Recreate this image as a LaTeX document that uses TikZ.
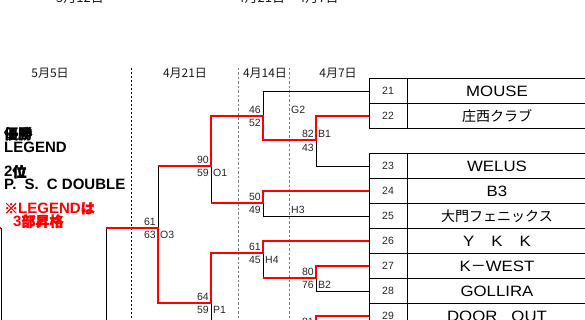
\documentclass[tikz,border=0pt]{standalone}
\usepackage{fontspec}
\setmainfont{Liberation Sans}
\newfontfamily\jp{Noto Sans CJK JP}
\newfontfamily\jpb[FakeBold=2.5]{Noto Sans CJK JP}
\newfontfamily\wide[FakeStretch=1.12]{Liberation Sans}
\begin{document}
\begin{tikzpicture}[x=1pt,y=-1pt,
  blk/.style={line width=0.9pt, black},
  win/.style={line width=2pt, red},
  tbl/.style={line width=0.9pt, black},
  sc/.style={font=\fontsize{10.5}{11}\selectfont, inner sep=0pt, anchor=east, text=black!85},
  ml/.style={font=\fontsize{10.5}{11}\selectfont, inner sep=0pt, anchor=west, text=black!85},
  num/.style={font=\fontsize{10.5}{11}\selectfont, inner sep=0pt, text=black!85},
  team/.style={font=\wide\fontsize{15}{16}\selectfont, inner sep=0pt},
  jteam/.style={font=\jp\fontsize{14}{15}\selectfont, inner sep=0pt},
  hdr/.style={font=\jp\fontsize{12}{13}\selectfont, inner sep=0pt, text=black!90},
  side/.style={font=\bfseries\fontsize{15}{16}\selectfont, inner sep=0pt, anchor=base west},
  gdash/.style={dashed, gray, line width=0.8pt, dash pattern=on 2.5pt off 2pt},
  kdash/.style={dashed, black, line width=0.7pt, dash pattern=on 2pt off 2pt}]
\useasboundingbox (0,0) rectangle (585,320);
\clip (0,0) rectangle (585,320);

% cut-off header texts at the top
\node[hdr, anchor=base, font=\jp\fontsize{13}{14}\selectfont] (top1) at (80,2.5) {5月12日};
\node[hdr, anchor=base, font=\jp\fontsize{13}{14}\selectfont] (top2) at (288,2.5) {4月21日～4月7日};

% round headers
\node[hdr] (h1) at (50,73) {5月5日};
\node[hdr] (h2) at (185,73) {4月21日};
\node[hdr] (h3) at (265,73) {4月14日};
\node[hdr] (h4) at (338,73) {4月7日};

% dashed separators
\draw[kdash] (131,68) -- (131,330);
\draw[gdash] (238,68) -- (238,330);
\draw[gdash] (289,68) -- (289,330);

% left texts
\node[side] (w1) at (4,139) {{\jpb\fontsize{14}{15}\selectfont 優勝}};
\node[side] (w2) at (4,153) {LEGEND};
\node[side] (s1) at (4,177) {2{\jpb\fontsize{14}{15}\selectfont 位}};
\node[side] (s2) at (4,189.5) {P.\hspace{4pt} S.\hspace{4pt} C DOUBLE};
\node[side, text=red] (r1) at (4,213.5) {{\jpb\fontsize{14}{15}\selectfont ※}LEGEND{\jpb\fontsize{14}{15}\selectfont は}};
\node[side, text=red] (r2) at (13,226.5) {3{\jpb\fontsize{14}{15}\selectfont 部昇格}};

% table
\draw[tbl] (369,78.5) rectangle (600,128.5);
\draw[tbl] (369,103.5) -- (600,103.5);
\draw[tbl] (407.5,78.5) -- (407.5,128.5);
\draw[tbl] (369,330) -- (369,153.5) -- (600,153.5);
\foreach \yy in {178.5,203.5,228.5,253.5,278.5,303.5} \draw[tbl] (369,\yy) -- (600,\yy);
\draw[tbl] (407.5,153.5) -- (407.5,330);

\foreach \n/\yy in {21/91,22/116,23/166,24/191,25/216,26/241,27/266,28/291,29/316}{
  \coordinate (e\n) at (369,\yy);
  \node[num] (n\n) at (388,\yy) {\n};
}
\node[team] (t21) at (497,91) {MOUSE};
\node[jteam] (t22) at (497,116) {庄西クラブ};
\node[team] (t23) at (497,166) {WELUS};
\node[team] (t24) at (497,191) {B3};
\node[jteam] (t25) at (497,216) {大門フェニックス};
\node[team] (t26) at (497,241) {Y\hspace{17pt}K\hspace{17pt}K};
\node[team] (t27) at (497,266) {K{\jp －}WEST};
\node[team] (t28) at (497,291) {GOLLIRA};
\node[team] (t29) at (497,316) {DOOR\hspace{14pt}OUT};

% bracket coordinates
\coordinate (b1t) at (316,116); \coordinate (b1j) at (316,140); \coordinate (b1b) at (316,166);
\coordinate (g2t) at (263,91);  \coordinate (g2j) at (263,116); \coordinate (g2b) at (263,140);
\coordinate (h3t) at (263,191); \coordinate (h3j) at (263,203); \coordinate (h3b) at (263,216);
\coordinate (o1t) at (211,116); \coordinate (o1j) at (211,166); \coordinate (o1b) at (211,203);
\coordinate (b2t) at (316,266); \coordinate (b2j) at (316,278); \coordinate (b2b) at (316,291);
\coordinate (h4t) at (263,241); \coordinate (h4j) at (263,253); \coordinate (h4b) at (263,278);
\coordinate (p1t) at (211,253); \coordinate (p1j) at (211,303); \coordinate (p1b) at (211,330);
\coordinate (o3t) at (158,166); \coordinate (o3j) at (158,228); \coordinate (o3b) at (158,303);
\coordinate (sft) at (106,228); \coordinate (sfb) at (106,330);
\coordinate (b3t) at (316,316); \coordinate (b3b) at (316,330);
\coordinate (fl) at (1,228); \coordinate (flo) at (-10,228); \coordinate (flb) at (1,330);

% black (losing) parts
\draw[blk] (b1j) -- (b1b) -- (e23);
\draw[blk] (e21) -- (g2t) -- (g2j);
\draw[blk] (h3j) -- (h3b) -- (e25);
\draw[blk] (o1j) -- (o1b);
\draw[blk] (b2j) -- (b2b) -- (e28);
\draw[blk] (h4j) -- (h4b);
\draw[blk] (p1j) -- (p1b);
\draw[blk] (o3t) -- (o3j);
\draw[blk] (sft) -- (sfb);
\draw[blk] (fl) -- (flb);

% red (winning) paths
\draw[win] (e22) -- (b1t) -- (b1j) -- (g2b) -- (g2j) -- (o1t) -- (o1j) -- (o3t);
\draw[win] (e24) -- (h3t) -- (h3j) -- (o1b);
\draw[win] (e27) -- (b2t) -- (b2j) -- (h4b);
\draw[win] (e26) -- (h4t) -- (h4j) -- (p1t) -- (p1j) -- (o3b) -- (o3j) -- (sft);
\draw[win] (e29) -- (b3t) -- (b3b);
\draw[win] (flo) -- (fl);

% scores and match labels
\node[sc] (s82) at (314,134) {82};  \node[sc] (s43) at (314,147.5) {43};
\node[ml] (lb1) at (318,134) {B1};
\node[sc] (s46) at (261,110) {46};  \node[sc] (s52) at (261,123) {52};
\node[ml] (lg2) at (291,110) {G2};
\node[sc] (s50) at (261,197) {50};  \node[sc] (s49) at (261,210) {49};
\node[ml] (lh3) at (291,210) {H3};
\node[sc] (s90) at (209,159.5) {90}; \node[sc] (s59a) at (209,172.5) {59};
\node[ml] (lo1) at (213,172.5) {O1};
\node[sc] (s80) at (314,272) {80};  \node[sc] (s76) at (314,285) {76};
\node[ml] (lb2) at (318,285) {B2};
\node[sc] (s61a) at (261,247) {61}; \node[sc] (s45) at (261,260) {45};
\node[ml] (lh4) at (265,260) {H4};
\node[sc] (s64) at (209,297) {64};  \node[sc] (s59b) at (209,310) {59};
\node[ml] (lp1) at (213,310) {P1};
\node[sc] (s61b) at (156,222) {61}; \node[sc] (s63) at (156,235) {63};
\node[ml] (lo3) at (160,235) {O3};
\node[sc] (s81) at (314,322) {81};
\end{tikzpicture}
\end{document}
